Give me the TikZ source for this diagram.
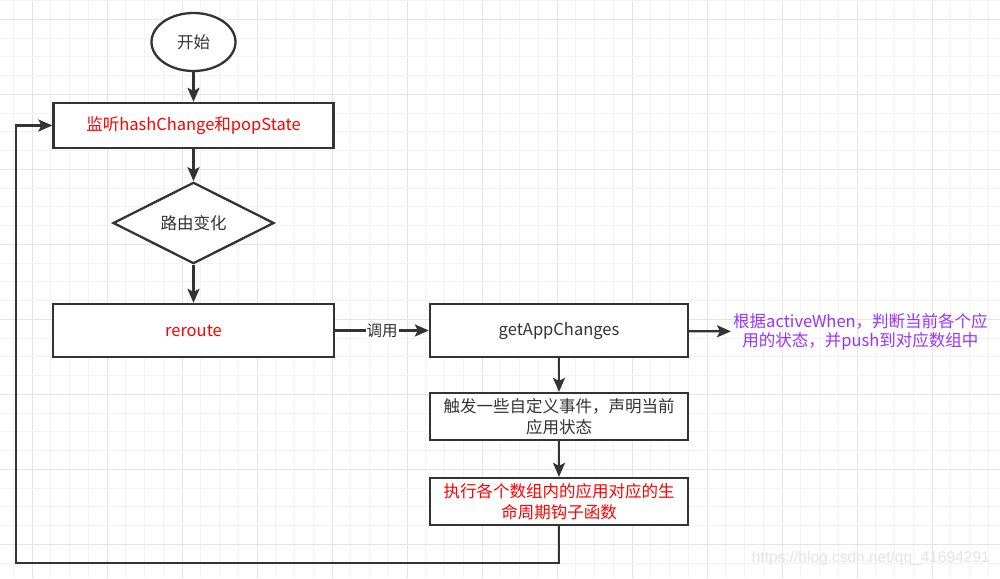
\documentclass[tikz,border=0pt]{standalone}
\usepackage{fontspec}
\setmainfont{Noto Sans CJK SC}
\newfontfamily\wmfont{Liberation Sans}
\usetikzlibrary{shapes.geometric,arrows.meta}
\definecolor{lc}{HTML}{333333}
\definecolor{redtxt}{HTML}{FF0000}
\definecolor{purp}{HTML}{9933FF}
\definecolor{gminor}{HTML}{F3F3F3}
\definecolor{gmajor}{HTML}{E4E4E4}
\tikzset{
  box/.style={draw=lc, line width=2.3pt, rectangle, fill=white, inner sep=2pt, align=center, font=\fontsize{16.5}{21}\selectfont},
  arr/.style={draw=lc, line width=2.3pt, -{Stealth[length=14pt, width=12pt, inset=3pt]}},
}
\begin{document}
\begin{tikzpicture}[x=1pt, y=-1pt]
\useasboundingbox (0,0) rectangle (1000,578);
\fill[white] (0,0) rectangle (1000,578);
% grid
\foreach \i in {0,...,53} {
  \pgfmathtruncatemacro{\m}{mod(\i,4)}
  \ifnum\m=1
    \draw[gmajor, line width=0.9pt] ({13.25+18.75*\i},0) -- ({13.25+18.75*\i},578);
  \else
    \draw[gminor, line width=0.9pt] ({13.25+18.75*\i},0) -- ({13.25+18.75*\i},578);
  \fi
}
\foreach \j in {0,...,31} {
  \pgfmathtruncatemacro{\m}{mod(\j,4)}
  \ifnum\m=1
    \draw[gmajor, line width=0.9pt] (0,{0.5+18.75*\j}) -- (1000,{0.5+18.75*\j});
  \else
    \draw[gminor, line width=0.9pt] (0,{0.5+18.75*\j}) -- (1000,{0.5+18.75*\j});
  \fi
}
% nodes
\node[box, ellipse, minimum width=84pt, minimum height=58pt, text=lc] (start) at (193.5,42) {开始};
\node[box, minimum width=280pt, minimum height=45pt, text=redtxt] (listen) at (193.5,125.5) {监听hashChange和popState};
\node[box, diamond, minimum width=161pt, minimum height=80pt, inner sep=0pt, text=lc] (route) at (193.5,223) {路由变化};
\node[box, minimum width=281pt, minimum height=53pt, text=redtxt] (reroute) at (193.5,330.5) {reroute};
\node[box, minimum width=258pt, minimum height=53pt, text=lc] (getapp) at (559,330.5) {getAppChanges};
\node[box, minimum width=258pt, minimum height=47pt, text=lc] (trigger) at (559,416.5) {触发一些自定义事件，声明当前\\应用状态};
\node[box, minimum width=258pt, minimum height=47pt, text=redtxt] (exec) at (559,501.5) {执行各个数组内的应用对应的生\\命周期钩子函数};
\node[anchor=west, inner sep=2pt, align=center, text=purp, font=\fontsize{16.5}{19.5}\selectfont] (note) at (731,332) {根据activeWhen，判断当前各个应\\用的状态，并push到对应数组中};
\node[text=gmajor, font=\wmfont\fontsize{15.5}{18}\selectfont, anchor=east, inner sep=0pt] (wm) at (990,558) {https://blog.csdn.net/qq\_41694291};
% connectors
\draw[arr] (start) -- (listen);
\draw[arr] (listen) -- (route);
\draw[arr] (route) -- (reroute);
\draw[arr] (reroute) -- node[fill=white, inner sep=1pt, text=lc, font=\fontsize{15.5}{18}\selectfont] (call) {调用} (getapp);
\draw[arr] (getapp) -- (note);
\draw[arr] (getapp) -- (trigger);
\draw[arr] (trigger) -- (exec);
\coordinate (loopcorner) at (16,563);
\draw[arr] (exec.south) |- (loopcorner) |- (listen.west);
\end{tikzpicture}
\end{document}
